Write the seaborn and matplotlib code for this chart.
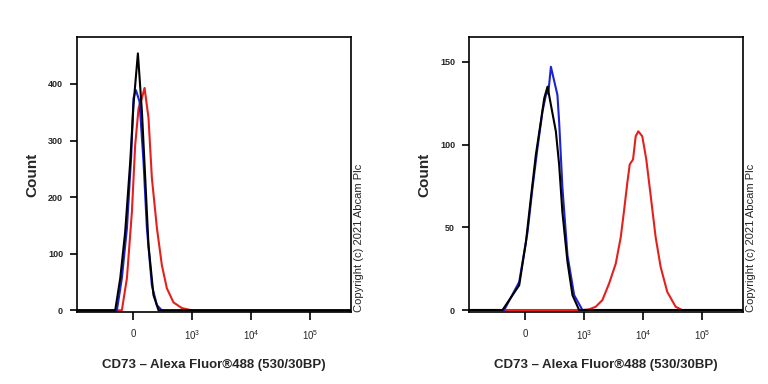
import numpy as np
import pandas as pd
import matplotlib
matplotlib.use("Agg")
import matplotlib.pyplot as plt
import seaborn as sns
from matplotlib.ticker import FixedLocator, MultipleLocator

sns.set_style("white")
plt.rcParams['font.family'] = ['Liberation Sans', 'DejaVu Sans']
plt.rcParams['mathtext.default'] = 'regular'

# ---------------- data (fluorescence intensity vs count) ----------------
# Left panel
L_black_x = [-900, -192, -138, -86, -32, 3, 50, 93, 128, 163, 216, 270, 500000]
L_black_y = [0, 0, 57, 138, 262, 363, 454, 351, 234, 115, 27, 0, 0]
L_blue_x = [-900, -174, -121, -67, -21, 3, 29, 67, 110, 146, 199, 253, 306, 500000]
L_blue_y = [0, 0, 57, 145, 274, 375, 389, 369, 262, 145, 44, 9, 0, 0]
L_red_x = [-900, -121, -67, -14, 21, 57, 93, 121, 163, 199, 253, 306, 372, 482, 667, 986, 500000]
L_red_y = [0, 0, 57, 174, 292, 357, 375, 393, 340, 234, 145, 80, 39, 14, 4, 0, 0]

# Right panel
R_black_x = [-900, -242, -64, 7.5, 61, 114, 167, 203, 238, 274, 331, 376, 428, 522, 634, 822, 500000]
R_black_y = [0, 0, 15, 41, 68, 94, 114, 128, 135, 124, 108, 88, 59, 29, 9, 0, 0]
R_blue_x = [-900, -224, -64, 24.5, 78, 131, 184, 221, 248, 274, 352, 376, 428, 522, 677, 935, 500000]
R_blue_y = [0, 0, 17, 47, 74, 98, 120, 130, 132, 147, 130, 114, 74, 33, 9, 0, 0]
R_red_x = [-900, 935, 1215, 1579, 2043, 2655, 3444, 4188, 4767, 5421, 5958, 6777, 7518, 8319,
           9729, 11379, 13524, 16410, 19950, 25830, 35820, 46350, 500000]
R_red_y = [0, 0, 0.4, 2, 6, 16, 28, 44, 60, 77, 88, 91, 105, 108,
           105, 91, 69, 44, 26, 11, 2, 0, 0]

samples = ["red", "blue", "black"]
colors = {"red": "#e5201c", "blue": "#1c22d6", "black": "#000000"}

x_ticks = [0, 1e3, 1e4, 1e5]
x_ticklabels = ["0", "$10^3$", "$10^4$", "$10^5$"]
xlabel = "CD73 \u2013 Alexa Fluor\u00ae488 (530/30BP)"
ylabel = "Count"
copyright_text = "Copyright (c) 2021 Abcam Plc"


def make_df(data):
    frames = []
    for name, (xs, ys) in data.items():
        frames.append(pd.DataFrame({"x": xs, "count": ys, "sample": name}))
    return pd.concat(frames, ignore_index=True)


panels = [
    dict(data={"red": (L_red_x, L_red_y), "blue": (L_blue_x, L_blue_y), "black": (L_black_x, L_black_y)},
         ylim=(-3, 483), major=100, minor=20, left=77),
    dict(data={"red": (R_red_x, R_red_y), "blue": (R_blue_x, R_blue_y), "black": (R_black_x, R_black_y)},
         ylim=(-1.2, 165), major=50, minor=10, left=469),
]

fig = plt.figure(figsize=(7.68, 3.84), dpi=100)
W, H = 768, 384

minor_x = [-800, -600, -400, -300, -200, -150, -100, -50, 50, 100, 150, 200, 300, 400, 500, 600, 700, 800, 900]
minor_x += [k * 1e3 for k in range(2, 10)] + [k * 1e4 for k in range(2, 10)] + [2e5, 3e5, 4e5]

for p in panels:
    l = p["left"] / W
    w = 274 / W
    b = 1 - 312 / H
    h = 275 / H
    ax = fig.add_axes([l, b, w, h])
    df = make_df(p["data"])
    sns.lineplot(data=df, x="x", y="count", hue="sample", hue_order=samples,
                 palette=colors, estimator=None, sort=False, legend=False,
                 linewidth=1.5, ax=ax)
    ax.set_xscale("symlog", linthresh=300, linscale=0.43)
    ax.set_xlim(-900, 500000)
    ax.set_ylim(*p["ylim"])
    ax.xaxis.set_major_locator(FixedLocator(x_ticks))
    ax.set_xticklabels(x_ticklabels)
    ax.xaxis.set_minor_locator(FixedLocator(minor_x))
    ax.yaxis.set_major_locator(MultipleLocator(p["major"]))
    ax.yaxis.set_minor_locator(MultipleLocator(p["minor"]))
    ax.tick_params(axis="both", which="both", direction="out", color="black")
    ax.tick_params(axis="x", which="major", length=6, width=1.2, pad=6, labelsize=7)
    ax.tick_params(axis="x", which="minor", length=3.5, width=1.0)
    ax.tick_params(axis="y", which="major", length=5, width=1.2, pad=5, labelsize=6.5)
    ax.tick_params(axis="y", which="minor", length=3, width=1.0)
    ax.tick_params(bottom=True, left=True, top=False, right=False)
    for lab in ax.get_yticklabels():
        lab.set_fontweight("bold")
    for s in ax.spines.values():
        s.set_visible(True)
        s.set_color("black")
        s.set_linewidth(1.2)
    ax.set_xlabel(xlabel, fontsize=9.5, fontweight="bold", labelpad=12)
    ax.set_ylabel(ylabel, fontsize=11, fontweight="bold", labelpad=6)
    ax.text(1.03, 0.0, copyright_text, transform=ax.transAxes, rotation=90,
            ha="center", va="bottom", fontsize=8)

fig.savefig("out.png", dpi=100)
